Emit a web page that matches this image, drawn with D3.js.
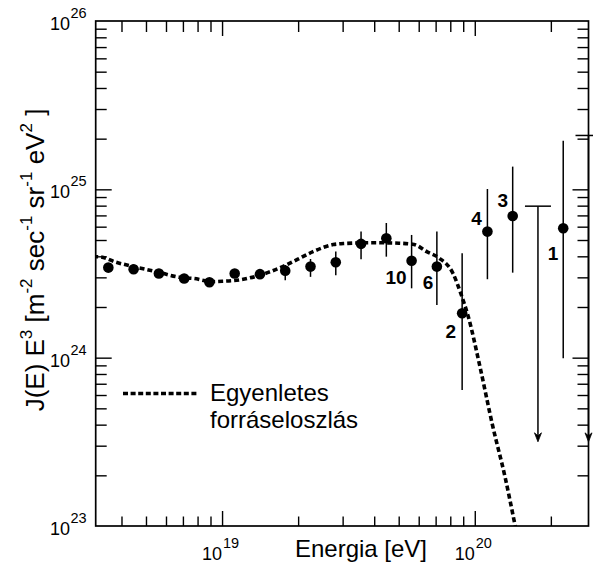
<!DOCTYPE html>
<html>
<head>
<meta charset="utf-8">
<script src="https://cdn.jsdelivr.net/npm/d3@7"></script>
<style>
  body { margin: 0; background: #fff; }
  svg { display: block; font-family: "Liberation Sans", Arial, sans-serif; }
</style>
</head>
<body>
<svg id="chart" width="593" height="567"></svg>
<script>
// measured points: log10(E / eV) and log10(J E^3)
const pointLogE = [18.55, 18.65, 18.75, 18.85, 18.95, 19.05, 19.15, 19.25, 19.35, 19.45,
                   19.55, 19.65, 19.75, 19.85, 19.95, 20.05, 20.15, 20.35];
const pointLogJ = [24.535, 24.525, 24.50, 24.47, 24.448, 24.50, 24.496, 24.517, 24.541, 24.567,
                   24.676, 24.709, 24.576, 24.541, 24.264, 24.749, 24.842, 24.769];
const errHiLogJ = [24.56, 24.55, 24.525, 24.49, 24.47, 24.525, 24.52, 24.55, 24.586, 24.63,
                   24.749, 24.80, 24.729, 24.749, 24.62, 25.002, 25.135, 25.288];
const errLoLogJ = [24.51, 24.50, 24.475, 24.45, 24.425, 24.475, 24.47, 24.46, 24.48, 24.49,
                   24.585, 24.60, 24.412, 24.313, 23.808, 24.466, 24.505, 23.996];

// upper limits (bar from the limit down to an arrow)
const limitLogE = [20.25, 20.45];
const limitLogJ = [24.90, 25.32];
const limitArrowLogJ = [23.50, 23.50];

// event counts written next to the last points
const countIndex = [12, 13, 14, 15, 16, 17];
const countText = ["10", "6", "2", "4", "3", "1"];

// uniform source distribution model curve
const curveLogE = [18.49, 18.52, 18.58, 18.65, 18.74, 18.83, 18.89, 18.96, 19.00, 19.07,
                   19.11, 19.18, 19.24, 19.30, 19.36, 19.44, 19.48, 19.60, 19.70, 19.76,
                   19.81, 19.86, 19.914, 19.945, 19.975, 20.02, 20.07, 20.12, 20.16, 20.20];
const curveLogJ = [24.600, 24.598, 24.567, 24.541, 24.511, 24.478, 24.470, 24.452, 24.454, 24.462,
                   24.474, 24.505, 24.541, 24.585, 24.630, 24.672, 24.678, 24.683, 24.680, 24.672,
                   24.630, 24.591, 24.50, 24.38, 24.24, 23.95, 23.60, 23.29, 23.00, 22.70];

const xMajorExp = [19, 20];
const yMajorExp = [23, 24, 25, 26];
const legendLines = ["Egyenletes", "forráseloszlás"];
const xTitle = "Energia [eV]";

const svg = d3.select("#chart");
const margin = { top: 21, right: 4.5, bottom: 41, left: 95.7 };
const W = 593, H = 567;

const x = d3.scaleLog()
  .domain([Math.pow(10, 18.5), Math.pow(10, 20.45)])
  .range([margin.left, W - margin.right]);
const y = d3.scaleLog()
  .domain([1e23, 1e26])
  .range([H - margin.bottom, margin.top]);

const p10 = v => Math.pow(10, v);

// ticks
const isPow10 = v => Math.abs(Math.log10(v) - Math.round(Math.log10(v))) < 1e-9;
const xMinor = x.ticks().filter(v => !isPow10(v));
const yMinor = y.ticks().filter(v => !isPow10(v));
const xMajor = xMajorExp.map(p10);
const yMajor = yMajorExp.map(p10);

function drawAxis(axisFn, scale, values, size, transform) {
  svg.append("g")
    .attr("transform", transform)
    .call(axisFn(scale).tickValues(values).tickSize(-size).tickFormat(""))
    .call(g => g.select(".domain").remove())
    .call(g => g.selectAll("line").attr("stroke", "#000").attr("stroke-width", 1.4));
}
const bottomY = H - margin.bottom, topY = margin.top;
const leftX = margin.left, rightX = W - margin.right;

drawAxis(d3.axisBottom, x, xMinor, 9.5, `translate(0,${bottomY})`);
drawAxis(d3.axisBottom, x, xMajor, 15, `translate(0,${bottomY})`);
drawAxis(d3.axisTop, x, xMinor, 11, `translate(0,${topY})`);
drawAxis(d3.axisTop, x, xMajor, 15, `translate(0,${topY})`);
drawAxis(d3.axisLeft, y, yMinor, 11, `translate(${leftX},0)`);
drawAxis(d3.axisLeft, y, yMajor.slice(1, -1), 16, `translate(${leftX},0)`);
drawAxis(d3.axisRight, y, yMinor, 11, `translate(${rightX},0)`);
drawAxis(d3.axisRight, y, yMajor.slice(1, -1), 16, `translate(${rightX},0)`);

svg.append("rect")
  .attr("x", leftX).attr("y", topY)
  .attr("width", rightX - leftX).attr("height", bottomY - topY)
  .attr("fill", "none").attr("stroke", "#000").attr("stroke-width", 1.7);

// tick labels 10^n
xMajorExp.forEach(e => {
  const px = x(p10(e));
  svg.append("text").attr("x", px).attr("y", 560).attr("text-anchor", "end")
    .attr("font-size", 18).text("10");
  svg.append("text").attr("x", px + 1).attr("y", 548)
    .attr("font-size", 14.5).text(e);
});
yMajorExp.forEach(e => {
  const py = y(p10(e));
  svg.append("text").attr("x", 70).attr("y", py + 9).attr("text-anchor", "end")
    .attr("font-size", 18).text("10");
  svg.append("text").attr("x", 70.5).attr("y", py - 3)
    .attr("font-size", 14.5).text(e);
});

// axis titles
svg.append("text")
  .attr("x", 361).attr("y", 557)
  .attr("text-anchor", "middle").attr("font-size", 24)
  .text(xTitle);

const yt = svg.append("text")
  .attr("transform", "translate(44,260) rotate(-90)")
  .attr("text-anchor", "middle").attr("font-size", 26);
const supParts = [["J(E) E", ""], ["3", "s"], [" [m", ""], ["-2", "s"], [" sec", ""], ["-1", "s"],
                  [" sr", ""], ["-1", "s"], [" eV", ""], ["2", "s"], [" ]", ""]];
supParts.forEach(([t, k], i) => {
  const ts = yt.append("tspan").text(t);
  if (k === "s") ts.attr("font-size", 17).attr("dy", -12);
  else if (i > 0) ts.attr("dy", 12);
});

// clip for curve
svg.append("clipPath").attr("id", "plotClip")
  .append("rect").attr("x", leftX).attr("y", topY)
  .attr("width", rightX - leftX).attr("height", bottomY - topY);

const line = d3.line()
  .x(d => x(p10(d[0])))
  .y(d => y(p10(d[1])))
  .curve(d3.curveMonotoneX);

svg.append("path")
  .datum(curveLogE.map((v, i) => [v, curveLogJ[i]]))
  .attr("clip-path", "url(#plotClip)")
  .attr("d", line)
  .attr("fill", "none").attr("stroke", "#000")
  .attr("stroke-width", 3.6).attr("stroke-dasharray", "5,3");

// error bars
const pts = pointLogE.map((v, i) => ({ e: v, j: pointLogJ[i], lo: errLoLogJ[i], hi: errHiLogJ[i] }));
svg.append("g").selectAll("line").data(pts).enter().append("line")
  .attr("x1", d => x(p10(d.e))).attr("x2", d => x(p10(d.e)))
  .attr("y1", d => y(p10(d.lo))).attr("y2", d => y(p10(d.hi)))
  .attr("stroke", "#000").attr("stroke-width", 1.5);

svg.append("g").selectAll("circle").data(pts).enter().append("circle")
  .attr("cx", d => x(p10(d.e))).attr("cy", d => y(p10(d.j)))
  .attr("r", 5.3).attr("fill", "#000");

// upper limits
limitLogE.forEach((e, i) => {
  const px = x(p10(e));
  const top = y(p10(limitLogJ[i]));
  const tip = y(p10(limitArrowLogJ[i]));
  svg.append("line").attr("x1", px - 13).attr("x2", px + 13).attr("y1", top).attr("y2", top)
    .attr("stroke", "#000").attr("stroke-width", 1.5);
  svg.append("line").attr("x1", px).attr("x2", px).attr("y1", top).attr("y2", tip - 4)
    .attr("stroke", "#000").attr("stroke-width", 1.5);
  svg.append("path")
    .attr("d", `M${px},${tip} L${px - 3.5},${tip - 9} L${px},${tip - 6} L${px + 3.5},${tip - 9} Z`)
    .attr("fill", "#000").attr("stroke", "#000").attr("stroke-width", 0.8);
});

// event counts
const countOffset = [[-5, 23], [-3.5, 22], [-6, 24.5], [-5.5, -6.5], [-4.5, -9], [-5, 32]];
countIndex.forEach((k, i) => {
  svg.append("text")
    .attr("x", x(p10(pointLogE[k])) + countOffset[i][0])
    .attr("y", y(p10(pointLogJ[k])) + countOffset[i][1])
    .attr("text-anchor", "end").attr("font-size", 19).attr("font-weight", "bold")
    .text(countText[i]);
});

// legend
svg.append("line").attr("x1", 123).attr("x2", 198).attr("y1", 393.5).attr("y2", 393.5)
  .attr("stroke", "#000").attr("stroke-width", 3.6).attr("stroke-dasharray", "5,2.6");
legendLines.forEach((t, i) => {
  svg.append("text").attr("x", 210).attr("y", 401 + i * 27)
    .attr("font-size", 24).text(t);
});
</script>
</body>
</html>
